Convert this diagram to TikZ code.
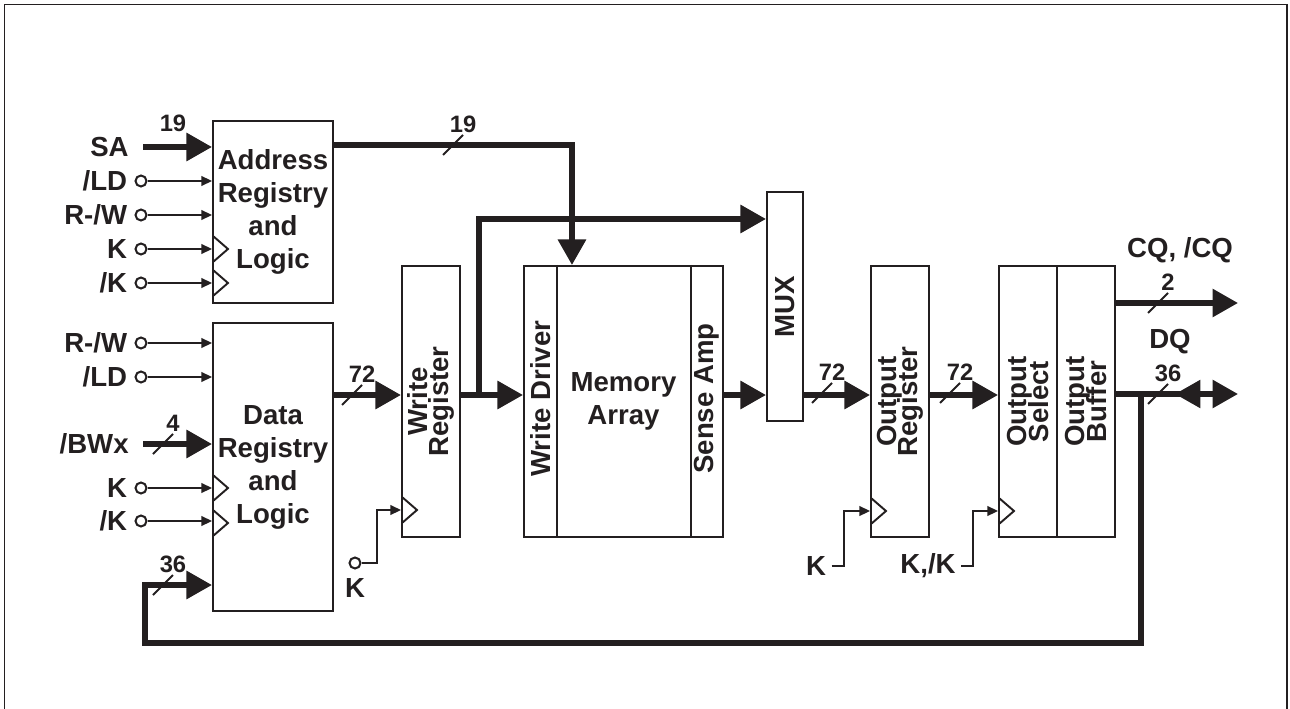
\documentclass[tikz,border=0pt]{standalone}
\usepackage{fontspec}
\setmainfont{Liberation Sans}
\usepackage{tikz}
\usetikzlibrary{arrows.meta, positioning, calc}
\usepackage{xcolor}
\definecolor{ink}{RGB}{35,31,32}
\newcommand{\tightlines}{\lineskiplimit=-20pt\relax}

\tikzset{
  blk/.style={draw=ink, line width=1.2pt, inner sep=0pt},
  busline/.style={draw=ink, line width=3pt},
  bus/.style={busline, -{Triangle[length=14.5pt,width=15.5pt]}},
  sig/.style={draw=ink, line width=1.15pt, -{Triangle[length=6pt,width=5.5pt]}},
  slash/.style={draw=ink, line width=1.1pt},
  clk/.style={draw=ink, line width=1.1pt},
  pin/.style={circle, draw=ink, line width=1.15pt, fill=white, minimum size=0.22cm, inner sep=0pt},
  lab/.style={text=ink, font=\fontsize{15.7}{18}\selectfont\bfseries, inner sep=0pt},
  num/.style={text=ink, font=\fontsize{13.5}{15}\selectfont\bfseries, inner sep=1pt},
  blktxt/.style={text=ink, align=center, font=\fontsize{15.7}{18.8}\selectfont\bfseries},
  vtxt/.style={text=ink, align=center, rotate=90, inner sep=0pt,
    font=\fontsize{15.7}{12}\selectfont\bfseries\tightlines},
}

\begin{document}
\begin{tikzpicture}[x=0.02cm, y=-0.02cm]
  \useasboundingbox (0,0) rectangle (1290,709);
  \draw[ink, line width=1.1pt] (4.5,709) -- (4.5,4.5) -- (1287,4.5) -- (1287,709);

  % blocks
  \node[blk, blktxt, minimum width=2.4cm, minimum height=3.64cm] (addr) at (273,212) {Address\\Registry\\and\\Logic};
  \node[blk, blktxt, minimum width=2.4cm, minimum height=5.76cm] (dat) at (273,467) {Data\\Registry\\and\\Logic};
  \node[blk, minimum width=1.16cm, minimum height=5.42cm] (wr) at (431,401.5) {};
  \node[vtxt] (wrtxt) at (wr) {Write\\Register};
  \node[blk, minimum width=3.98cm, minimum height=5.42cm] (mem) at (623.5,401.5) {};
  \draw[clk, line width=1.2pt] ($(mem.north west)+(34,0)$) -- ($(mem.south west)+(34,0)$);
  \draw[clk, line width=1.2pt] ($(mem.north east)+(-33,0)$) -- ($(mem.south east)+(-33,0)$);
  \node[blktxt] (memtxt) at (mem) {Memory\\Array};
  \node[vtxt, anchor=west] (wdtxt) at (541,477) {Write Driver};
  \node[vtxt, anchor=west] (satxt) at (706.5,474) {Sense Amp};
  \node[blk, minimum width=0.72cm, minimum height=4.58cm] (mux) at (785,306.5) {};
  \node[vtxt] (muxtxt) at (mux) {MUX};
  \node[blk, minimum width=1.16cm, minimum height=5.42cm] (oreg) at (900,401.5) {};
  \node[vtxt] (oregtxt) at (oreg) {Output\\Register};
  \node[blk, minimum width=1.16cm, minimum height=5.42cm] (osel) at (1028,401.5) {};
  \node[vtxt] (oseltxt) at (osel) {Output\\Select};
  \node[blk, minimum width=1.16cm, minimum height=5.42cm] (obuf) at (1086,401.5) {};
  \node[vtxt] (obuftxt) at (obuf) {Output\\Buffer};

  % address inputs
  \coordinate (sa) at (143,147);
  \node[lab, left=8pt of sa] (salab) {SA};
  \draw[bus] (sa) -- (sa -| addr.west);
  \node[num] (sanum) at (173,123) {19};
  \node[pin] (ldA) at (141,181) {};
  \node[lab, left=4pt of ldA] (ldAlab) {/LD};
  \draw[sig] (ldA) -- (ldA -| addr.west);
  \node[pin] (rwA) at (141,215) {};
  \node[lab, left=4pt of rwA] (rwAlab) {R-/W};
  \draw[sig] (rwA) -- (rwA -| addr.west);
  \node[pin] (kA) at (141,249) {};
  \node[lab, left=4pt of kA] (kAlab) {K};
  \draw[sig] (kA) -- (kA -| addr.west);
  \draw[clk] (213,236) -- (228,249) -- (213,262);
  \node[pin] (nkA) at (141,283) {};
  \node[lab, left=4pt of nkA] (nkAlab) {/K};
  \draw[sig] (nkA) -- (nkA -| addr.west);
  \draw[clk] (213,270) -- (228,283) -- (213,296);

  % data inputs
  \node[pin] (rwD) at (141,343) {};
  \node[lab, left=4pt of rwD] (rwDlab) {R-/W};
  \draw[sig] (rwD) -- (rwD -| dat.west);
  \node[pin] (ldD) at (141,377) {};
  \node[lab, left=4pt of ldD] (ldDlab) {/LD};
  \draw[sig] (ldD) -- (ldD -| dat.west);
  \coordinate (bw) at (143,444);
  \node[lab, left=8pt of bw] (bwlab) {/BWx};
  \draw[bus] (bw) -- (bw -| dat.west);
  \draw[slash] (153,454) -- ++(20,-20) node[num, above] (bwnum) {4};
  \node[pin] (kD) at (141,488) {};
  \node[lab, left=4pt of kD] (kDlab) {K};
  \draw[sig] (kD) -- (kD -| dat.west);
  \draw[clk] (213,475) -- (228,488) -- (213,501);
  \node[pin] (nkD) at (141,521) {};
  \node[lab, left=4pt of nkD] (nkDlab) {/K};
  \draw[sig] (nkD) -- (nkD -| dat.west);
  \draw[clk] (213,510) -- (228,523) -- (213,536);

  % write path
  \draw[bus] (dat.east |- 0,395) -- (wr.west |- 0,395);
  \draw[slash] (342,405) -- ++(20,-20) node[num, above] (dnum) {72};
  \node[pin] (kW) at (355,563) {};
  \node[lab, below=5pt of kW] (kWlab) {K};
  \draw[sig] (kW.east) -- ++(15,0) |- (wr.west |- 0,510);
  \draw[clk] (402,497) -- (417,510) -- (402,523);
  \coordinate (br) at (479,395);
  \draw[bus] (wr.east |- br) -- (mem.west |- br);
  \draw[bus] (br) |- (mux.west |- 0,219);
  \coordinate (memin) at ($(mem.north west)+(49,0)$);
  \draw[bus] (addr.east |- 0,145) -| (memin);
  \draw[slash] (443,155) -- ++(20,-20) node[num, above] (anum) {19};

  % read path
  \draw[bus] (mem.east |- 0,395) -- (mux.west |- 0,395);
  \draw[bus] (mux.east |- 0,395) -- (oreg.west |- 0,395);
  \draw[slash] (812,403) -- ++(20,-20) node[num, above] (mnum) {72};
  \draw[bus] (oreg.east |- 0,395) -- (osel.west |- 0,395);
  \draw[slash] (940,403) -- ++(20,-20) node[num, above] (onum) {72};
  \node[lab] (kO) at (816,566) {K};
  \draw[sig] ([xshift=3pt]kO.east) -- ++(12,0) |- (oreg.west |- 0,511);
  \draw[clk] (871,498) -- (886,511) -- (871,524);
  \node[lab] (kkO) at (928,566) {K,/K};
  \draw[sig] ([xshift=3pt]kkO.east) -- ++(12,0) |- (osel.west |- 0,511);
  \draw[clk] (999,498) -- (1014,511) -- (999,524);

  % outputs
  \coordinate (cq) at (1238,303);
  \node[lab] (cqlab) at (1180,250) {CQ, /CQ};
  \draw[bus] (obuf.east |- cq) -- (cq);
  \draw[slash] (1148,313) -- ++(20,-20) node[num, above] (cqnum) {2};
  \coordinate (dq) at (1238,394);
  \coordinate (dqin) at (1175,394);
  \node[lab] (dqlab) at (1170,342) {DQ};
  \draw[bus] (obuf.east |- dq) -- (dq);
  \draw[busline, {Triangle[length=14.5pt,width=15.5pt]}-] (dqin) -- ++(30,0);
  \draw[slash] (1148,404) -- ++(20,-20) node[num, above] (dqnum) {36};

  % feedback to data input
  \coordinate (fb) at (1141,394);
  \coordinate (fbl) at (145,643);
  \draw[bus] (fb) |- (fbl) |- (dat.west |- 0,585);
  \draw[slash] (153,595) -- ++(20,-20) node[num, above] (fbnum) {36};
\end{tikzpicture}
\end{document}
